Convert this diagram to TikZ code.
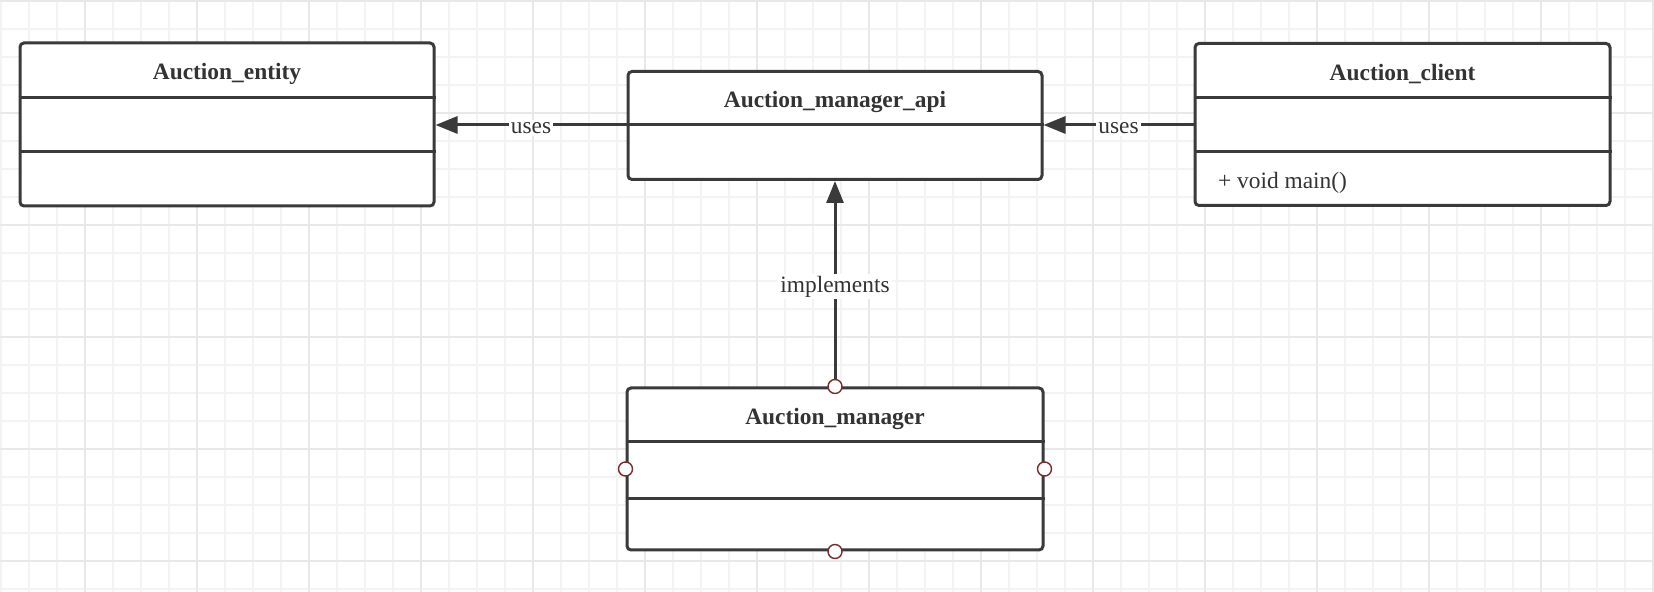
\documentclass[tikz,border=0pt]{standalone}
\usepackage{fontspec}
\setmainfont{Liberation Serif}
\usetikzlibrary{arrows.meta}
\definecolor{ink}{HTML}{3A3A3A}
\definecolor{txt}{HTML}{333333}
\definecolor{gminor}{HTML}{F3F3F3}
\definecolor{gmajor}{HTML}{E8E8E8}
\definecolor{port}{HTML}{7A2B2B}
\begin{document}
\begin{tikzpicture}[x=0.5pt,y=-0.5pt,
  classbox/.style={draw=ink, line width=1.5pt, rounded corners=2pt, fill=white, inner sep=0pt},
  title/.style={font=\fontsize{11.7}{13}\selectfont\bfseries, text=txt},
  member/.style={font=\fontsize{11.7}{13}\selectfont, text=txt, anchor=west},
  divider/.style={draw=ink, line width=1.5pt},
  conn/.style={draw=ink, line width=1.5pt, -{Triangle[length=11pt,width=8.5pt]}},
  lbl/.style={fill=white, inner sep=1pt, yshift=-1.5pt, font=\fontsize{11.7}{13}\selectfont, text=txt},
  portc/.style={circle, draw=port, fill=white, line width=0.7pt, minimum size=7pt, inner sep=0pt}]
\useasboundingbox (0,0) rectangle (1654,592);
\fill[white] (0,0) rectangle (1654,592);
% grid
\foreach \i in {0,...,59} {\draw[gminor, line width=0.75pt] ({1+28*\i},0) -- ({1+28*\i},592);}
\foreach \i in {0,...,21} {\draw[gminor, line width=0.75pt] (0,{1+28*\i}) -- (1654,{1+28*\i});}
\foreach \i in {1,...,15} {\draw[gmajor, line width=0.75pt] ({-27+112*\i},0) -- ({-27+112*\i},592);}
\foreach \i in {0,...,5} {\draw[gmajor, line width=0.75pt] (0,{1+112*\i}) -- (1654,{1+112*\i});}

% Auction_entity
\node[classbox, minimum width=207pt, minimum height=81.5pt] (entity) at (227,124.5) {};
\draw[divider] (entity.west |- 0,98) -- (entity.east |- 0,98);
\draw[divider] (entity.west |- 0,152) -- (entity.east |- 0,152);
\node[title] (entityT) at (227,74) {Auction\_entity};

% Auction_manager_api
\node[classbox, minimum width=207pt, minimum height=54pt] (api) at (835,125.5) {};
\draw[divider] (api.west |- 0,125) -- (api.east |- 0,125);
\node[title] (apiT) at (835,101.5) {Auction\_manager\_api};

% Auction_client
\node[classbox, minimum width=207.5pt, minimum height=81pt] (client) at (1402.5,124.5) {};
\draw[divider] (client.west |- 0,98) -- (client.east |- 0,98);
\draw[divider] (client.west |- 0,152) -- (client.east |- 0,152);
\node[title] (clientT) at (1402.5,74) {Auction\_client};
\node[member] (clientM) at (1211,182.5) {+ void main()};

% Auction_manager
\node[classbox, minimum width=208pt, minimum height=81pt] (manager) at (835,469) {};
\draw[divider] (manager.west |- 0,442) -- (manager.east |- 0,442);
\draw[divider] (manager.west |- 0,499) -- (manager.east |- 0,499);
\node[title] (managerT) at (835,418.5) {Auction\_manager};

% connectors
\draw[conn] (api.west |- 0,125) -- node[lbl] (l1) {uses} (entity.east |- 0,125);
\draw[conn] (client.west |- 0,125) -- node[lbl] (l2) {uses} (api.east |- 0,125);
\draw[conn] (manager.north) -- node[lbl] (l3) {implements} (api.south);

% ports
\node[portc] (pn) at (manager.north) {};
\node[portc] (ps) at (manager.south) {};
\node[portc] (pw) at (manager.west) {};
\node[portc] (pe) at (manager.east) {};
\end{tikzpicture}
\end{document}
